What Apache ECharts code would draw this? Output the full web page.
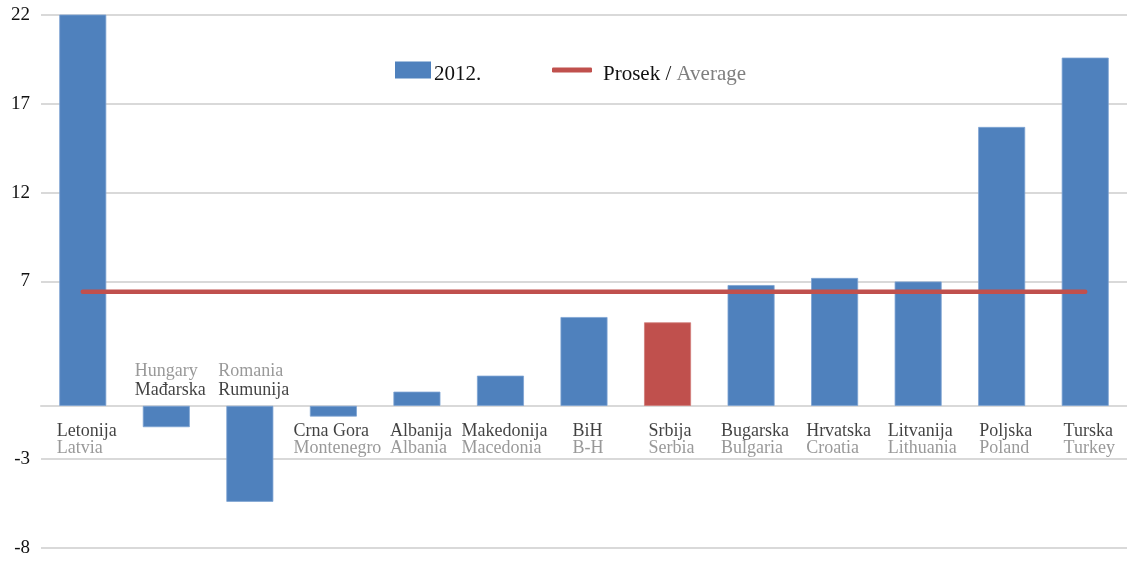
<!DOCTYPE html>
<html>
<head>
<meta charset="utf-8">
<script src="https://cdn.jsdelivr.net/npm/echarts@6/dist/echarts.min.js"></script>
<style>
  html, body { margin: 0; padding: 0; background: #fff; }
  #chart { width: 1127px; height: 562px; }
</style>
</head>
<body>
<div id="chart"></div>
<script>
// Country names (Serbian / English) and 2012 values
const categoriesSr = ['Letonija', 'Mađarska', 'Rumunija', 'Crna Gora', 'Albanija', 'Makedonija', 'BiH', 'Srbija', 'Bugarska', 'Hrvatska', 'Litvanija', 'Poljska', 'Turska'];
const categoriesEn = ['Latvia', 'Hungary', 'Romania', 'Montenegro', 'Albania', 'Macedonia', 'B-H', 'Serbia', 'Bulgaria', 'Croatia', 'Lithuania', 'Poland', 'Turkey'];
const values2012 = [22.2, -1.2, -5.4, -0.6, 0.8, 1.7, 5.0, 4.7, 6.8, 7.2, 7.0, 15.7, 19.6];
const averageValues = [6.42, 6.42, 6.42, 6.42, 6.42, 6.42, 6.42, 6.42, 6.42, 6.42, 6.42, 6.42, 6.42];

// Categories whose names sit above the zero line, and the highlighted country
const labelAbove = ['Mađarska', 'Rumunija'];
const highlighted = 'Srbija';

// Value axis ticks; the tick at 2 is left unlabeled
const yMin = -8, yMax = 22, yStep = 5;
const yHiddenTicks = [2];

const FONT = 'Liberation Serif';
const BLUE = '#4f81bd';
const RED = '#c0504d';
const GRID = '#d9d9d9';

const nameStyle = (lh) => ({
  sr: { color: '#111', fontSize: 18, fontFamily: FONT, lineHeight: lh, align: 'left' },
  en: { color: '#7f7f7f', fontSize: 18, fontFamily: FONT, lineHeight: lh, align: 'left' }
});

// Legend text: a thin spacer line on top lowers the text a little against its icon
const legendRich = {
  s: { fontSize: 8, lineHeight: 8 },
  a: { fontFamily: FONT, fontSize: 21, lineHeight: 24, color: '#111' },
  b: { fontFamily: FONT, fontSize: 21, lineHeight: 24, color: '#7f7f7f' }
};

// Gridline colours per tick index (transparent where the tick is hidden)
const gridColors = [];
for (let v = yMin; v <= yMax; v += yStep) {
  gridColors.push(yHiddenTicks.includes(v) ? 'rgba(0,0,0,0)' : GRID);
}

const chart = echarts.init(document.getElementById('chart'), null, { renderer: 'canvas' });

chart.setOption({
  animation: false,
  backgroundColor: '#fff',
  grid: { left: 41, right: 0, top: 15, bottom: 14, containLabel: false, outerBoundsMode: 'none' },
  legend: [
    {
      data: [{ name: '2012.', icon: 'rect' }],
      left: 395, top: 54, padding: 0,
      itemWidth: 36, itemHeight: 17,
      itemStyle: { borderWidth: 0 },
      selectedMode: false,
      formatter: name => `{s| }\n{a|${name}}`,
      textStyle: { fontFamily: FONT, fontSize: 21, padding: [0, 0, 0, -2], rich: legendRich }
    },
    {
      data: [{ name: 'Prosek', icon: 'roundRect' }],
      left: 552, top: 54, padding: 0,
      itemWidth: 40, itemHeight: 5,
      selectedMode: false,
      formatter: () => '{s| }\n{a|Prosek / }{b|Average}',
      textStyle: { fontFamily: FONT, fontSize: 21, padding: [0, 0, 0, 6], rich: legendRich }
    }
  ],
  xAxis: {
    type: 'category',
    data: categoriesSr,
    axisTick: { show: false },
    axisLine: { onZero: true, lineStyle: { color: GRID, width: 2 } },
    axisLabel: { show: false }
  },
  yAxis: {
    type: 'value',
    min: yMin, max: yMax, interval: yStep,
    axisLine: { show: false },
    axisTick: { show: false },
    splitLine: { lineStyle: { color: gridColors, width: 2 } },
    axisLabel: {
      margin: 11,
      fontFamily: FONT, fontSize: 19, color: '#111',
      formatter: v => yHiddenTicks.includes(v) ? '' : String(v)
    }
  },
  series: [
    {
      name: '2012.',
      type: 'bar',
      barWidth: 47,
      itemStyle: { color: BLUE, borderColor: '#7ea3d3', borderWidth: 0.8 },
      data: values2012.map((v, i) => categoriesSr[i] === highlighted
        ? { value: v, itemStyle: { color: RED, borderColor: '#d07c79' } }
        : v),
      z: 2
    },
    {
      name: 'Prosek',
      type: 'line',
      data: averageValues,
      symbol: 'none',
      color: RED,
      lineStyle: { color: RED, width: 4.5, cap: 'round' },
      itemStyle: { color: RED },
      z: 3
    },
    {
      // Country names under the zero line
      name: 'labelsBelow',
      type: 'scatter',
      symbolSize: 0,
      silent: true,
      data: categoriesSr.map(c => labelAbove.includes(c) ? '-' : 0),
      label: {
        show: true,
        position: 'bottom',
        distance: 17,
        padding: [0, 0, 0, 8],
        formatter: p => `{sr|${categoriesSr[p.dataIndex]}}\n{en|${categoriesEn[p.dataIndex]}}`,
        rich: nameStyle(17)
      },
      z: 4
    },
    {
      // Country names above the zero line for the two deep negative bars
      name: 'labelsAbove',
      type: 'scatter',
      symbolSize: 0,
      silent: true,
      data: categoriesSr.map(c => labelAbove.includes(c) ? 0 : '-'),
      label: {
        show: true,
        position: 'top',
        distance: 6,
        padding: [0, 0, 0, 8],
        formatter: p => `{en|${categoriesEn[p.dataIndex]}}\n{sr|${categoriesSr[p.dataIndex]}}`,
        rich: nameStyle(19)
      },
      z: 4
    }
  ]
});
</script>
</body>
</html>
